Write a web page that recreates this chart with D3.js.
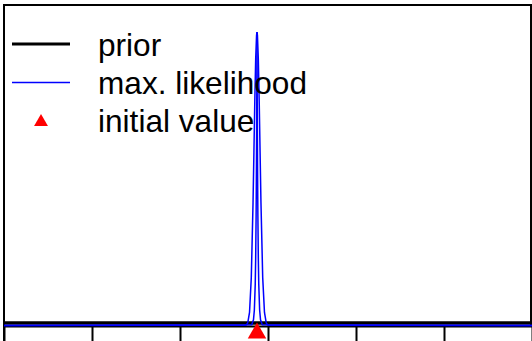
<!DOCTYPE html>
<html>
<head>
<meta charset="utf-8">
<script src="https://cdn.jsdelivr.net/npm/d3@7"></script>
<style>
  html, body { margin: 0; padding: 0; background: #fff; }
  svg { display: block; }
</style>
</head>
<body>
<svg id="chart" width="532" height="341"></svg>
<script>
// Parameter axis ticks
const xTicks = [0, 1, 2, 3, 4, 5, 6];

// Prior density (broad, almost flat over the range)
const priorX = [0, 1, 2, 3, 4, 5, 6];
const priorY = [0.1, 0.1, 0.1, 0.1, 0.1, 0.1, 0.1];

// Likelihood curve, wider component
const mlAX = [0, 2.75, 2.77, 2.79, 2.81, 2.83, 2.84, 2.85, 2.86, 2.87, 2.875,
              2.88, 2.89, 2.90, 2.91, 2.92, 2.94, 2.96, 2.98, 3.00, 6];
const mlAY = [0, 0.014, 0.10, 0.52, 1.90, 4.90, 6.91, 8.94, 10.62, 11.57, 11.70,
              11.57, 10.62, 8.94, 6.91, 4.90, 1.90, 0.52, 0.10, 0.014, 0];

// Likelihood curve, sharp component
const mlBX = [0, 2.815, 2.835, 2.845, 2.855, 2.86, 2.865, 2.869, 2.872, 2.875,
              2.878, 2.881, 2.885, 2.89, 2.895, 2.905, 2.915, 2.935, 6];
const mlBY = [0, 0.03, 0.23, 0.62, 1.65, 2.69, 4.39, 6.50, 8.72, 11.70,
              8.72, 6.50, 4.39, 2.69, 1.65, 0.62, 0.23, 0.03, 0];

// Starting point of the optimiser
const initX = [2.875];
const initY = [-0.31];

// Legend entries
const legendLabels = ["prior", "max. likelihood", "initial value"];

const svg = d3.select("#chart");

const x = d3.scaleLinear().domain([0, 6]).range([4, 532]);
const y = d3.scaleLinear().domain([0, 12.76]).range([325.5, 5.5]);

const line = d3.line().x(d => x(d[0])).y(d => y(d[1]));

// Plot frame
svg.append("path")
  .attr("d", "M4,341 L4,5 L531,5 L531,326.5 L4,326.5")
  .attr("fill", "none")
  .attr("stroke", "#000")
  .attr("stroke-width", 2);

// Bottom axis (tick marks only)
svg.append("g")
  .attr("transform", "translate(0,327)")
  .call(d3.axisBottom(x).tickValues(xTicks).tickSize(20).tickFormat(""))
  .call(g => g.select(".domain").remove())
  .call(g => g.selectAll(".tick line").attr("stroke", "#000").attr("stroke-width", 2));

// Prior
svg.append("path")
  .datum(d3.zip(priorX, priorY))
  .attr("d", line)
  .attr("fill", "none")
  .attr("stroke", "#000")
  .attr("stroke-width", 3.5);

// Likelihood curves
[[mlAX, mlAY], [mlBX, mlBY]].forEach(([xs, ys]) => {
  svg.append("path")
    .datum(d3.zip(xs, ys))
    .attr("d", line)
    .attr("fill", "none")
    .attr("stroke", "#0000ff")
    .attr("stroke-width", 1.5);
});

// Initial value marker
const tri = d3.symbol().type(d3.symbolTriangle).size(148);
svg.selectAll(".init")
  .data(d3.zip(initX, initY))
  .join("path")
  .attr("class", "init")
  .attr("transform", d => `translate(${x(d[0])},${y(d[1])})`)
  .attr("d", tri)
  .attr("fill", "#ff0000");

// Legend
const legend = svg.append("g");
const rowY = [44, 82.5, 120.5];

legend.append("line")
  .attr("x1", 12).attr("x2", 70).attr("y1", rowY[0]).attr("y2", rowY[0])
  .attr("stroke", "#000").attr("stroke-width", 3);
legend.append("line")
  .attr("x1", 12).attr("x2", 70).attr("y1", rowY[1]).attr("y2", rowY[1])
  .attr("stroke", "#0000ff").attr("stroke-width", 1.5);
legend.append("path")
  .attr("transform", `translate(41,${rowY[2] + 1.5})`)
  .attr("d", d3.symbol().type(d3.symbolTriangle).size(83))
  .attr("fill", "#ff0000");

legend.selectAll("text")
  .data(legendLabels)
  .join("text")
  .attr("x", 98)
  .attr("y", (d, i) => rowY[i] + 11.5)
  .attr("font-family", "'Liberation Sans', Arial, sans-serif")
  .attr("font-size", 31.6)
  .attr("fill", "#000")
  .text(d => d);
</script>
</body>
</html>
